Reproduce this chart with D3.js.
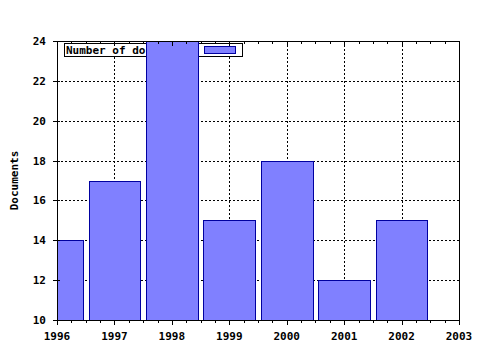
<!DOCTYPE html>
<html>
<head>
<meta charset="utf-8">
<script src="https://cdn.jsdelivr.net/npm/d3@7"></script>
<style>
  body { margin: 0; background: #fff; }
  text { font-family: "DejaVu Sans Mono", monospace; font-weight: bold; font-size: 11px; }
</style>
</head>
<body>
<div id="chart"></div>
<script>
var years = [1996, 1997, 1998, 1999, 2000, 2001, 2002];
var docs = [14, 17, 24, 15, 18, 12, 15];
var xTicks = [1996, 1997, 1998, 1999, 2000, 2001, 2002, 2003];
var yTicks = [10, 12, 14, 16, 18, 20, 22, 24];
var legendLabel = "Number of documents";

var w = 480, h = 350;
var pLeft = 57, pRight = 459, pTop = 41, pBottom = 320;

var svg = d3.select("#chart").append("svg")
  .attr("width", w)
  .attr("height", h);

var x = d3.scaleLinear().domain([1996, 2003]).range([pLeft, pRight]);
var y = d3.scaleLinear().domain([10, 24]).range([pBottom, pTop]);

// minor ticks, 4 per year
var minor = d3.range(0, 29).map(i => 1996 + i / 4);

svg.append("defs").append("clipPath").attr("id", "plot")
  .append("rect")
  .attr("x", pLeft).attr("y", pTop)
  .attr("width", pRight - pLeft).attr("height", pBottom - pTop);

// grid
var grid = svg.append("g")
  .attr("stroke", "#000")
  .attr("stroke-width", 1)
  .attr("stroke-dasharray", "2,2")
  .attr("shape-rendering", "crispEdges");
grid.selectAll(".gx").data(xTicks.slice(1, -1)).enter().append("line")
  .attr("x1", d => Math.round(x(d)) + 0.5).attr("x2", d => Math.round(x(d)) + 0.5)
  .attr("y1", pTop).attr("y2", pBottom);
grid.selectAll(".gy").data(yTicks.slice(1, -1)).enter().append("line")
  .attr("y1", d => Math.round(y(d)) + 0.5).attr("y2", d => Math.round(y(d)) + 0.5)
  .attr("x1", pLeft).attr("x2", pRight);

// legend
var lg = svg.append("g").attr("shape-rendering", "crispEdges");
lg.append("rect")
  .attr("x", 64.5).attr("y", 43.5).attr("width", 178).attr("height", 13)
  .attr("fill", "#fff").attr("stroke", "#000");
lg.append("text")
  .attr("x", 66).attr("y", 54)
  .text(legendLabel);
lg.append("rect")
  .attr("x", 204.5).attr("y", 46.5).attr("width", 31).attr("height", 7)
  .attr("fill", "#8080ff").attr("stroke", "#0000a0");

// bars
svg.append("g").attr("clip-path", "url(#plot)")
  .selectAll("rect").data(years).enter().append("rect")
  .attr("x", (d) => Math.round(x(d - 0.45)) + 0.5)
  .attr("width", (d) => Math.round(x(d + 0.45)) - Math.round(x(d - 0.45)))
  .attr("y", (d, i) => Math.round(y(docs[i])) + 0.5)
  .attr("height", (d, i) => pBottom - Math.round(y(docs[i])))
  .attr("fill", "#8080ff")
  .attr("stroke", "#0000a0")
  .attr("shape-rendering", "crispEdges");

// frame
svg.append("rect")
  .attr("x", pLeft + 0.5).attr("y", pTop + 0.5)
  .attr("width", pRight - pLeft).attr("height", pBottom - pTop)
  .attr("fill", "none").attr("stroke", "#000")
  .attr("shape-rendering", "crispEdges");

// x axis ticks (bottom outward, top inward)
var tk = svg.append("g").attr("stroke", "#000").attr("shape-rendering", "crispEdges");
tk.selectAll(".bt").data(minor).enter().append("line")
  .attr("x1", d => Math.round(x(d)) + 0.5).attr("x2", d => Math.round(x(d)) + 0.5)
  .attr("y1", pBottom).attr("y2", d => pBottom + (d % 1 === 0 ? 5 : 3));
tk.selectAll(".tt").data(minor).enter().append("line")
  .attr("x1", d => Math.round(x(d)) + 0.5).attr("x2", d => Math.round(x(d)) + 0.5)
  .attr("y1", pTop).attr("y2", d => pTop + (d % 1 === 0 ? 5 : 3));
tk.selectAll(".lt").data(yTicks).enter().append("line")
  .attr("y1", d => Math.round(y(d)) + 0.5).attr("y2", d => Math.round(y(d)) + 0.5)
  .attr("x1", pLeft - 4).attr("x2", pLeft + 3);

svg.append("g").selectAll("text").data(xTicks).enter().append("text")
  .attr("x", d => x(d))
  .attr("y", 340)
  .attr("text-anchor", "middle")
  .text(d => d);

svg.append("g").selectAll("text").data(yTicks).enter().append("text")
  .attr("x", 46)
  .attr("y", d => y(d) + 4)
  .attr("text-anchor", "end")
  .text(d => d);

svg.append("text")
  .attr("transform", "translate(18," + ((pTop + pBottom) / 2) + ") rotate(-90)")
  .attr("text-anchor", "middle")
  .text("Documents");
</script>
</body>
</html>
